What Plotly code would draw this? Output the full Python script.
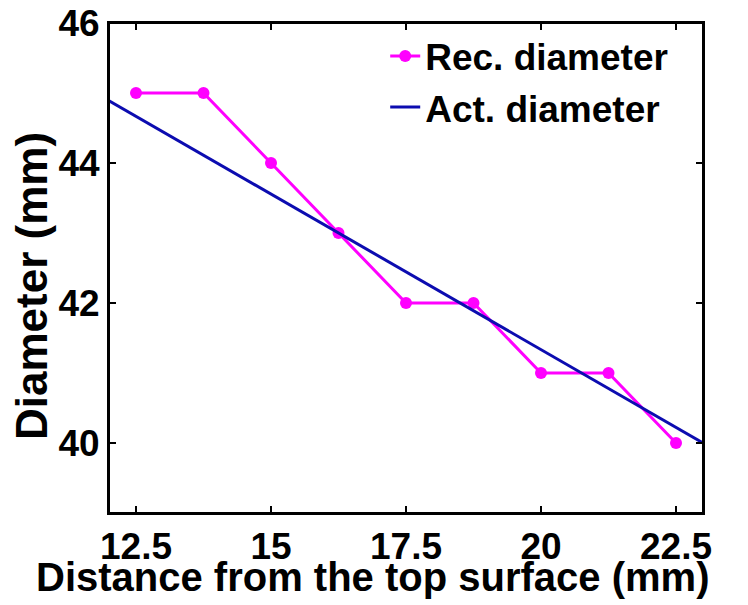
import plotly.graph_objects as go

rec_x = [12.5, 13.75, 15, 16.25, 17.5, 18.75, 20, 21.25, 22.5]
rec_y = [45, 45, 44, 43, 42, 42, 41, 41, 40]
act_x = [12, 23]
act_y = [44.89, 40.0]
x_ticks = [12.5, 15, 17.5, 20, 22.5]
x_tick_text = ["12.5", "15", "17.5", "20", "22.5"]
y_ticks = [40, 42, 44, 46]
x_title = "Distance from the top surface (mm)"
y_title = "Diameter (mm)"

font_family = "Liberation Sans, Arial, sans-serif"

fig = go.Figure()
fig.add_trace(go.Scatter(
    x=rec_x, y=rec_y, mode="lines+markers", name="<b>Rec. diameter</b>",
    line=dict(color="#FF00FF", width=3),
    marker=dict(color="#FF00FF", size=12),
))
fig.add_trace(go.Scatter(
    x=act_x, y=act_y, mode="lines", name="<b>Act. diameter</b>",
    line=dict(color="#0C0CB0", width=3),
))

axis_common = dict(
    showline=True, linecolor="black", linewidth=2, mirror="allticks",
    ticks="inside", ticklen=7, tickwidth=2, tickcolor="black",
    showgrid=False, zeroline=False, automargin=False,
    ticklabeloverflow="allow",
    tickfont=dict(family=font_family, size=37, color="black"),
)

fig.update_xaxes(
    range=[12, 23], tickvals=x_ticks, ticktext=[f"<b>{t}</b>" for t in x_tick_text],
    **axis_common,
)
fig.update_yaxes(
    range=[39, 46], tickvals=y_ticks, ticktext=[f"<b>{t}</b>" for t in y_ticks],
    **axis_common,
)

# plot frame
fig.add_shape(type="rect", xref="paper", yref="paper", x0=0, y0=0, x1=1, y1=1,
              line=dict(color="black", width=2), layer="above")

fig.add_annotation(
    text=f"<b>{x_title}</b>", xref="paper", yref="paper",
    x=0.4444, y=-0.13, xanchor="center", yanchor="middle",
    showarrow=False, font=dict(family=font_family, size=40, color="black"),
)
fig.add_annotation(
    text=f"<b>{y_title}</b>", xref="paper", yref="paper",
    x=-0.1296, y=0.4633, xanchor="center", yanchor="middle", textangle=-90,
    showarrow=False, font=dict(family=font_family, size=44, color="black"),
)

fig.update_layout(
    width=748, height=605,
    margin=dict(l=109, r=45, t=23, b=92),
    paper_bgcolor="white", plot_bgcolor="white",
    showlegend=True,
    legend=dict(x=0.465, y=0.995, xanchor="left", yanchor="top",
                bgcolor="rgba(255,255,255,0)", borderwidth=0,
                font=dict(family=font_family, size=37, color="black"),
                tracegroupgap=0),
)

fig.write_html(
    "out.html",
    config={"displayModeBar": False},
    post_script="document.body.style.margin='0';document.body.style.overflow='hidden';",
)
